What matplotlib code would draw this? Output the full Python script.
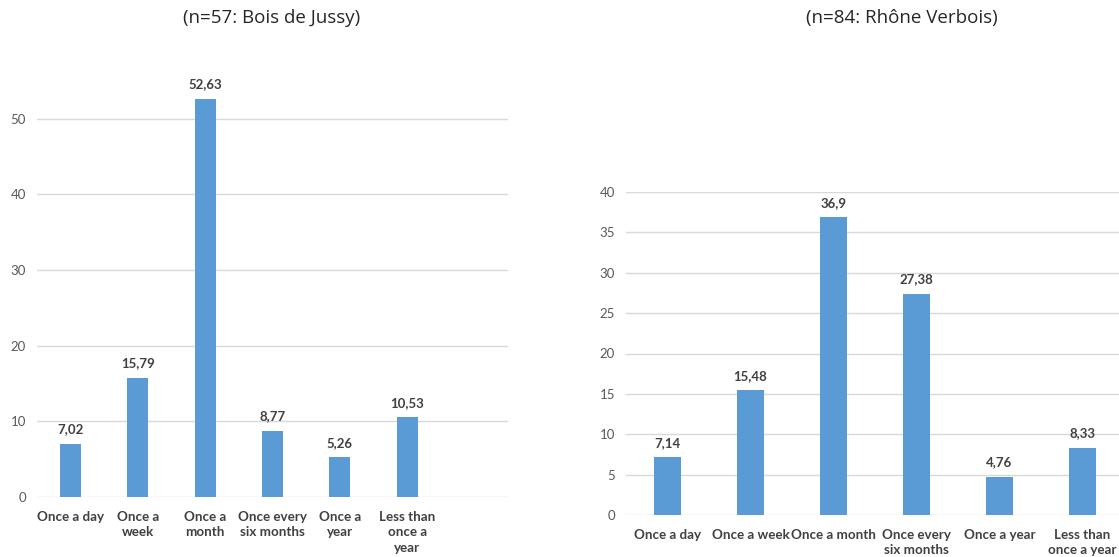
import matplotlib
matplotlib.use("Agg")
import matplotlib.pyplot as plt

plt.rcParams['font.family'] = ['Lato', 'DejaVu Sans']

left_title = "(n=57: Bois de Jussy)"
left_categories = ["Once a day", "Once a\nweek", "Once a\nmonth", "Once every\nsix months", "Once a\nyear", "Less than\nonce a\nyear"]
left_values = [7.02, 15.79, 52.63, 8.77, 5.26, 10.53]
left_labels = ["7,02", "15,79", "52,63", "8,77", "5,26", "10,53"]
left_yticks = [0, 10, 20, 30, 40, 50]

right_title = "(n=84: Rhône Verbois)"
right_categories = ["Once a day", "Once a week", "Once a month", "Once every\nsix months", "Once a year", "Less than\nonce a year"]
right_values = [7.14, 15.48, 36.9, 27.38, 4.76, 8.33]
right_labels = ["7,14", "15,48", "36,9", "27,38", "4,76", "8,33"]
right_yticks = [0, 5, 10, 15, 20, 25, 30, 35, 40]

BAR = "#5b9bd5"
GRID = "#d9d9d9"
TICK = "#595959"
VAL = "#404040"

W, H = 1119, 557
fig = plt.figure(figsize=(W / 100, H / 100), dpi=100)


def px(x0, y0, x1, y1):
    return [x0 / W, 1 - y1 / H, (x1 - x0) / W, (y1 - y0) / H]


def draw(ax, cats, vals, labs, yticks, ylim, nslots, width):
    x = list(range(len(cats)))
    ax.bar(x, vals, width=width, color=BAR, zorder=3)
    for xi, v, l in zip(x, vals, labs):
        ax.annotate(l, (xi, v), xytext=(0, 6), textcoords="offset points",
                    ha="center", va="bottom", fontsize=9.5, fontweight="bold", color=VAL)
    ax.set_xlim(-0.5, nslots - 0.5)
    ax.set_ylim(*ylim)
    ax.set_yticks(yticks)
    ax.set_yticklabels([str(t) for t in yticks])
    ax.set_xticks(x)
    ax.set_xticklabels(cats, fontsize=9.6, fontweight="bold", color=VAL, linespacing=1.35)
    ax.tick_params(axis="y", length=0, labelsize=9.5, labelcolor=TICK, pad=8)
    ax.tick_params(axis="x", length=0, pad=10)
    for s in ax.spines.values():
        s.set_visible(False)
    ax.grid(axis="y", color=GRID, linewidth=1, zorder=0)
    ax.set_axisbelow(True)


ax1 = fig.add_axes(px(37, 43, 508, 497))
draw(ax1, left_categories, left_values, left_labels, left_yticks, (0, 60), 7, 0.31)
fig.text(272 / W, 1 - 18 / H, left_title, ha="center", va="center", fontsize=13.5, color="#262626",
         family=["Open Sans", "DejaVu Sans"])

ax2 = fig.add_axes(px(626, 192, 1124, 515))
draw(ax2, right_categories, right_values, right_labels, right_yticks, (0, 40), 6, 0.33)
fig.text(902 / W, 1 - 18 / H, right_title, ha="center", va="center", fontsize=13.5, color="#262626",
         family=["Open Sans", "DejaVu Sans"])

fig.savefig("out.png", dpi=100)
